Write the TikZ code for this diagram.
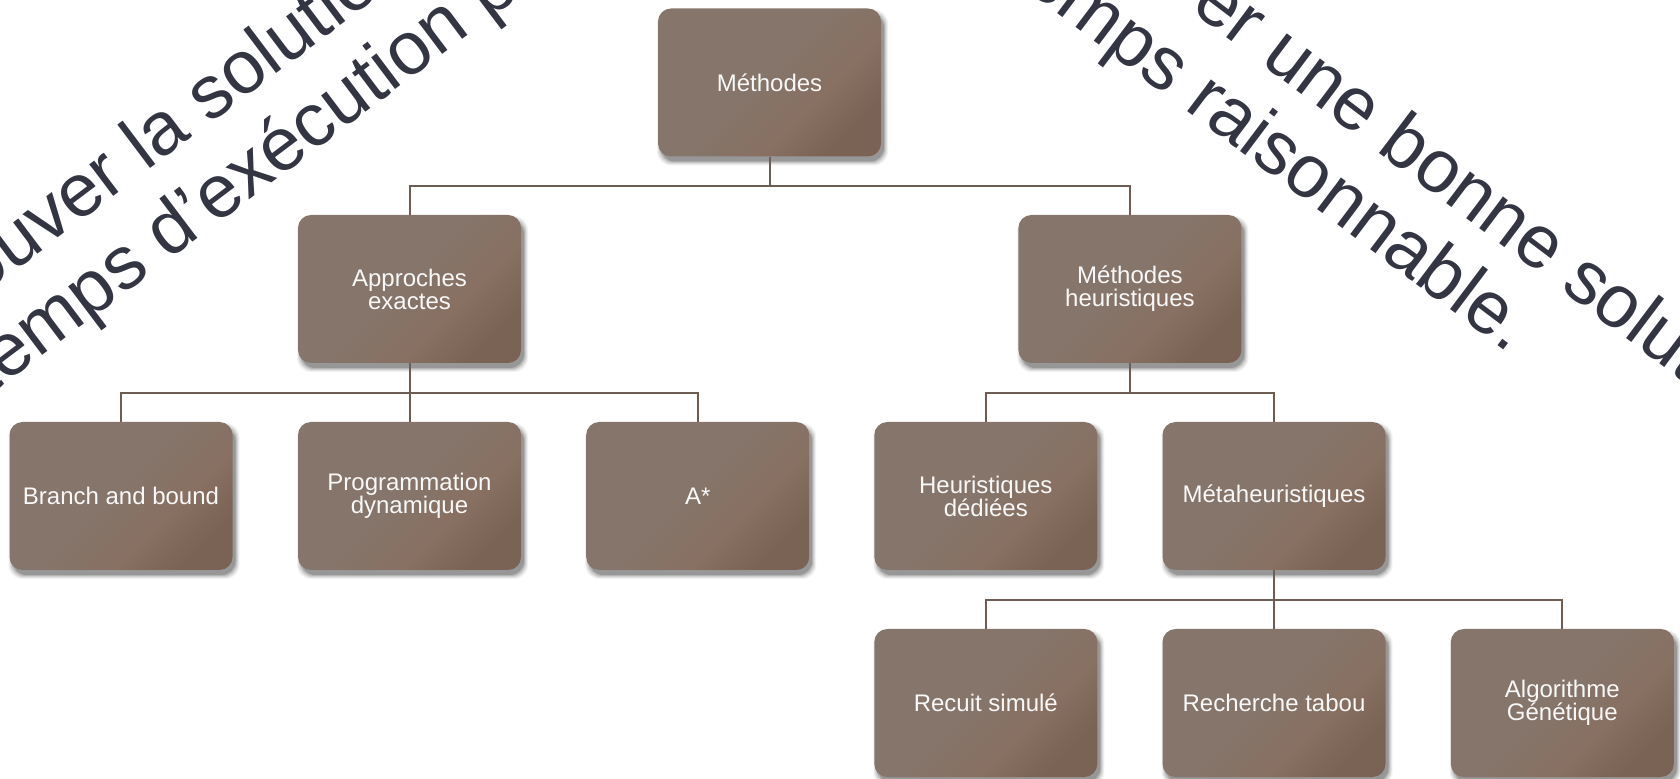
\documentclass[tikz,border=0pt]{standalone}
\usepackage{fontspec}
\setmainfont{Liberation Sans}
\usetikzlibrary{calc}

\definecolor{inkslate}{HTML}{333542}
\definecolor{boxA}{HTML}{85756B}
\definecolor{boxB}{HTML}{887062}
\definecolor{boxC}{HTML}{7A6254}
\definecolor{linkc}{HTML}{6E5D53}
\definecolor{boxtext}{HTML}{F8F8F8}

% diagonal brown gradient of the boxes (box spans 25bp..75bp)
\pgfdeclarehorizontalshading{boxshade}{100bp}{color(0bp)=(boxA); color(48bp)=(boxA); color(62bp)=(boxB); color(75bp)=(boxC); color(100bp)=(boxC)}

% soft shadow behind a box centred at (#1,#2)
\newcommand{\softshadow}[2]{%
  \foreach \g/\o in {4/0.05,3/0.07,2/0.09,1/0.12,0/0.16}{%
    \fill[black, opacity=\o, rounded corners=7pt]
      (#1-111.5+3-\g, #2-74+5-\g) rectangle (#1+111.5+3+\g, #2+74+5+\g);
  }}

\tikzset{
  box/.style={rectangle, rounded corners=6.5pt, minimum width=111.5pt,
    minimum height=74pt, inner sep=2pt, shade, shading=boxshade,
    shading angle=-45, text=boxtext, align=center,
    font=\fontsize{12}{11.5}\selectfont},
  link/.style={draw=linkc, line width=1pt},
  slogan/.style={text=inkslate, inner sep=0pt, anchor=base west,
    font=\fontsize{37.5}{42}\selectfont},
}

\begin{document}
\begin{tikzpicture}[x=0.5pt, y=-0.5pt]
\useasboundingbox (0,0) rectangle (1680,779);

% slanted background sentences
\begin{scope}
  \clip (0,0) rectangle (1680,779);
  \node[slogan, rotate=37]  (la1) at (146,172)  {\llap{Trouver }la solution};
  \node[slogan, rotate=37]  (la2) at (215,226)  {\llap{temps d’}exécution p};
  \node[slogan, rotate=-37] (ra1) at (1259,62)  {\llap{Trouver }une bonne solution};
  \node[slogan, rotate=-37] (ra2) at (1183,108) {\llap{temps }raisonnable.};
\end{scope}

% shadows
\foreach \cx/\cy in {769.5/82.5, 409.5/289, 1129.9/289,
    121/496, 409.5/496, 697.7/496, 985.8/496, 1274/496,
    985.8/703, 1274/703, 1562.3/703}{
  \softshadow{\cx}{\cy}
}

% boxes
\node[box] (m)  at (769.5,82.5) {Méthodes};
\node[box] (ax) at (409.5,289)  {Approches\\exactes};
\node[box] (mh) at (1129.9,289) {Méthodes\\heuristiques};
\node[box] (bb) at (121,496)    {Branch and bound};
\node[box] (pd) at (409.5,496)  {Programmation\\dynamique};
\node[box] (as) at (697.7,496)  {A*};
\node[box] (hd) at (985.8,496)  {Heuristiques\\dédiées};
\node[box] (mt) at (1274,496)   {Métaheuristiques};
\node[box] (rs) at (985.8,703)  {Recuit simulé};
\node[box] (rt) at (1274,703)   {Recherche tabou};
\node[box] (ag) at (1562.3,703) {Algorithme\\Génétique};

% tree connectors
\foreach \p/\c in {m/ax, m/mh, ax/bb, ax/pd, ax/as, mh/hd, mh/mt, mt/rs, mt/rt, mt/ag}{
  \draw[link] (\p.south) -- ++(0,29.5) -| (\c.north);
}
\end{tikzpicture}
\end{document}
